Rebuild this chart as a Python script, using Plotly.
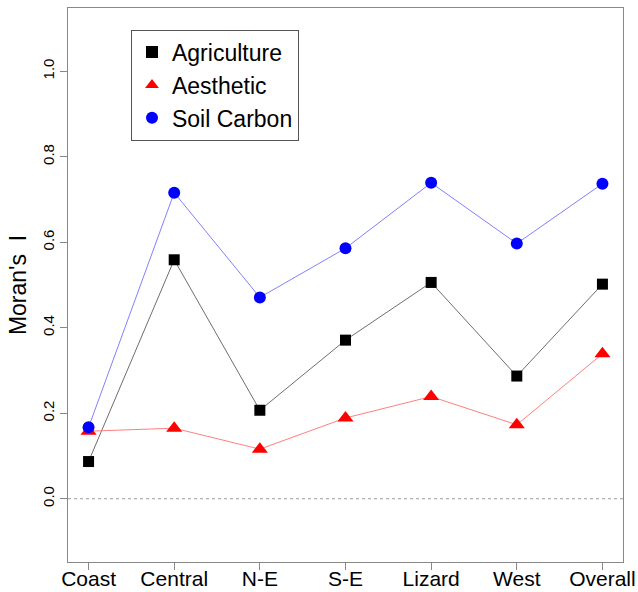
import plotly.graph_objects as go

categories = ["Coast", "Central", "N-E", "S-E", "Lizard", "West", "Overall"]
agriculture = [0.087, 0.559, 0.207, 0.371, 0.506, 0.287, 0.502]
aesthetic = [0.158, 0.165, 0.116, 0.189, 0.239, 0.173, 0.339]
soil_carbon = [0.167, 0.716, 0.471, 0.586, 0.739, 0.597, 0.737]
y_ticks = [0.0, 0.2, 0.4, 0.6, 0.8, 1.0]
y_tick_labels = ["0.0", "0.2", "0.4", "0.6", "0.8", "1.0"]

xpos = list(range(1, len(categories) + 1))
FONT = "Liberation Sans, Arial, Helvetica, sans-serif"

fig = go.Figure()

series = [
    ("Agriculture", agriculture, "black", "#6e6e6e", "square", 11),
    ("Aesthetic", aesthetic, "red", "#ff8080", "triangle-up", 14),
    ("Soil Carbon", soil_carbon, "blue", "#8080ff", "circle", 12),
]

# zero reference line
fig.add_trace(go.Scatter(x=[0.76, 7.24], y=[0, 0], mode="lines",
                         line=dict(color="#9a9a9a", width=1, dash="dot"),
                         showlegend=False, hoverinfo="skip"))

for name, vals, mcol, lcol, sym, size in series:
    fig.add_trace(go.Scatter(x=xpos, y=vals, mode="lines",
                             line=dict(color=lcol, width=1),
                             showlegend=False, hoverinfo="skip"))
for name, vals, mcol, lcol, sym, size in series:
    fig.add_trace(go.Scatter(x=xpos, y=vals, mode="markers", name=name,
                             marker=dict(color=mcol, symbol=sym, size=size,
                                         line=dict(width=0))))

fig.update_layout(
    width=638, height=592,
    margin=dict(l=68, r=15, t=8, b=30, autoexpand=False),
    paper_bgcolor="white", plot_bgcolor="white",
    font=dict(family=FONT, color="black"),
    showlegend=True,
    legend=dict(x=0.1135, y=0.961, xanchor="left", yanchor="top",
                bordercolor="#555555", borderwidth=1,
                font=dict(size=23, family=FONT), bgcolor="white",
                itemsizing="constant"),
    xaxis=dict(range=[0.76, 7.24], tickmode="array", tickvals=xpos,
               ticktext=categories, showgrid=False, zeroline=False,
               ticks="outside", ticklen=7, tickcolor="#888888",
               tickfont=dict(size=21, family=FONT), automargin=False,
               ticklabeloverflow="allow", ticklabelstandoff=-9,
               showline=True, linecolor="#888888", linewidth=1, mirror=True),
    yaxis=dict(range=[-0.148, 1.148], tickmode="array", tickvals=y_ticks,
               ticktext=y_tick_labels, tickangle=-90, showgrid=False,
               zeroline=False, ticks="outside", ticklen=7, tickcolor="#888888",
               tickfont=dict(size=15, family=FONT), automargin=False,
               showline=True, linecolor="#888888", linewidth=1, mirror=True,
               title=dict(text="Moran's  I", font=dict(size=23, family=FONT),
                          standoff=6)),
)

fig.write_html(
    "out.html",
    config={"displayModeBar": False},
    post_script="document.body.style.margin='0';"
                "document.documentElement.style.overflow='hidden';",
)
